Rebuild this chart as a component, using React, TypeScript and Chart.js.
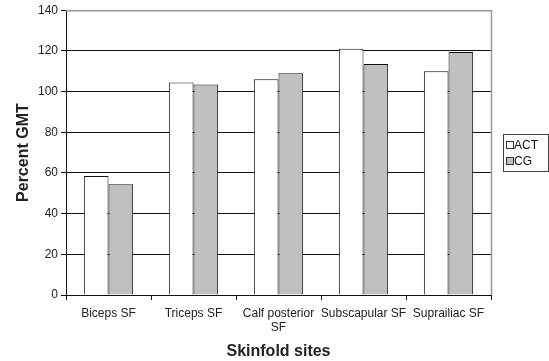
import React, { useEffect, useRef } from "react";
import { Chart, registerables } from "chart.js";

Chart.register(...registerables);

const categories = [["Biceps SF"], ["Triceps SF"], ["Calf posterior", "SF"], ["Subscapular SF"], ["Suprailiac SF"]];
const seriesNames = ["ACT", "CG"];
const actValues = [58.5, 104.5, 106, 121, 110];
const cgValues = [54.5, 103.5, 109, 113.5, 119.5];
const yTicks = [0, 20, 40, 60, 80, 100, 120, 140];
const xTitle = "Skinfold sites";
const yTitle = "Percent GMT";
const colors = ["#ffffff", "#c0c0c0"];

const FONT = "'Liberation Sans', Arial, sans-serif";

const framePlugin = {
  id: "frame",
  afterDatasetsDraw(chart: any) {
    const { ctx, chartArea } = chart;
    ctx.save();
    ctx.strokeStyle = "#999999";
    ctx.lineWidth = 1.5;
    ctx.beginPath();
    ctx.moveTo(chartArea.left, chartArea.top + 0.5);
    ctx.lineTo(chartArea.right + 0.5, chartArea.top + 0.5);
    ctx.lineTo(chartArea.right + 0.5, chartArea.bottom);
    ctx.stroke();
    ctx.restore();
  },
  afterDraw(chart: any) {
    const { ctx } = chart;
    ctx.save();
    const x = 503, y = 134, w = 45, h = 37;
    ctx.strokeStyle = "#444444";
    ctx.lineWidth = 1;
    ctx.strokeRect(x + 0.5, y + 0.5, w, h);
    ctx.font = `12px ${FONT}`;
    ctx.textBaseline = "middle";
    seriesNames.forEach((name, i) => {
      const cy = y + 11 + i * 16;
      ctx.fillStyle = colors[i];
      ctx.fillRect(x + 3.5, cy - 3.5, 7, 7);
      ctx.strokeStyle = "#333333";
      ctx.strokeRect(x + 3.5, cy - 3.5, 7, 7);
      ctx.fillStyle = "#111111";
      ctx.fillText(name, x + 11, cy + 0.5);
    });
    ctx.restore();
  },
};

export default function App() {
  const ref = useRef<HTMLCanvasElement>(null);
  useEffect(() => {
    document.body.style.margin = "0";
    const chart = new Chart(ref.current!, {
      type: "bar",
      data: {
        labels: categories as any,
        datasets: [
          { label: seriesNames[0], data: actValues, backgroundColor: colors[0], borderColor: "#111111", borderWidth: 1 },
          { label: seriesNames[1], data: cgValues, backgroundColor: colors[1], borderColor: "#111111", borderWidth: 1 },
        ],
      },
      options: {
        animation: false,
        responsive: false,
        layout: { padding: { left: 0, right: 58, top: 10, bottom: 0 } },
        datasets: { bar: { categoryPercentage: 0.58, barPercentage: 1.0 } },
        plugins: { legend: { display: false }, tooltip: { enabled: false } },
        scales: {
          x: {
            grid: { display: true, offset: true, drawOnChartArea: false, color: "#111111", tickLength: 5 },
            border: { color: "#111111", width: 1 },
            ticks: { color: "#222222", font: { family: FONT, size: 12, lineHeight: 1.2 }, maxRotation: 0, autoSkip: false, padding: 6 },
            title: { display: true, text: xTitle, color: "#222222", font: { family: FONT, size: 16, weight: "bold" }, padding: { top: 6, bottom: 0 } },
            afterFit: (s: any) => { s.height = 66; },
          },
          y: {
            min: 0,
            max: 140,
            afterBuildTicks: (s: any) => { s.ticks = yTicks.map((v) => ({ value: v })); },
            grid: { color: "#111111", tickLength: 5, lineWidth: 1 },
            border: { color: "#111111", width: 1 },
            ticks: { color: "#222222", font: { family: FONT, size: 12 }, padding: 3 },
            title: { display: true, text: yTitle, color: "#222222", font: { family: FONT, size: 16, weight: "bold" }, padding: { top: 14, bottom: 6 } },
            afterFit: (s: any) => { s.width = 66; },
          },
        },
      },
      plugins: [framePlugin],
    });
    return () => chart.destroy();
  }, []);
  return (
    <div style={{ width: 549, height: 361 }}>
      <canvas ref={ref} width={549} height={361} />
    </div>
  );
}
